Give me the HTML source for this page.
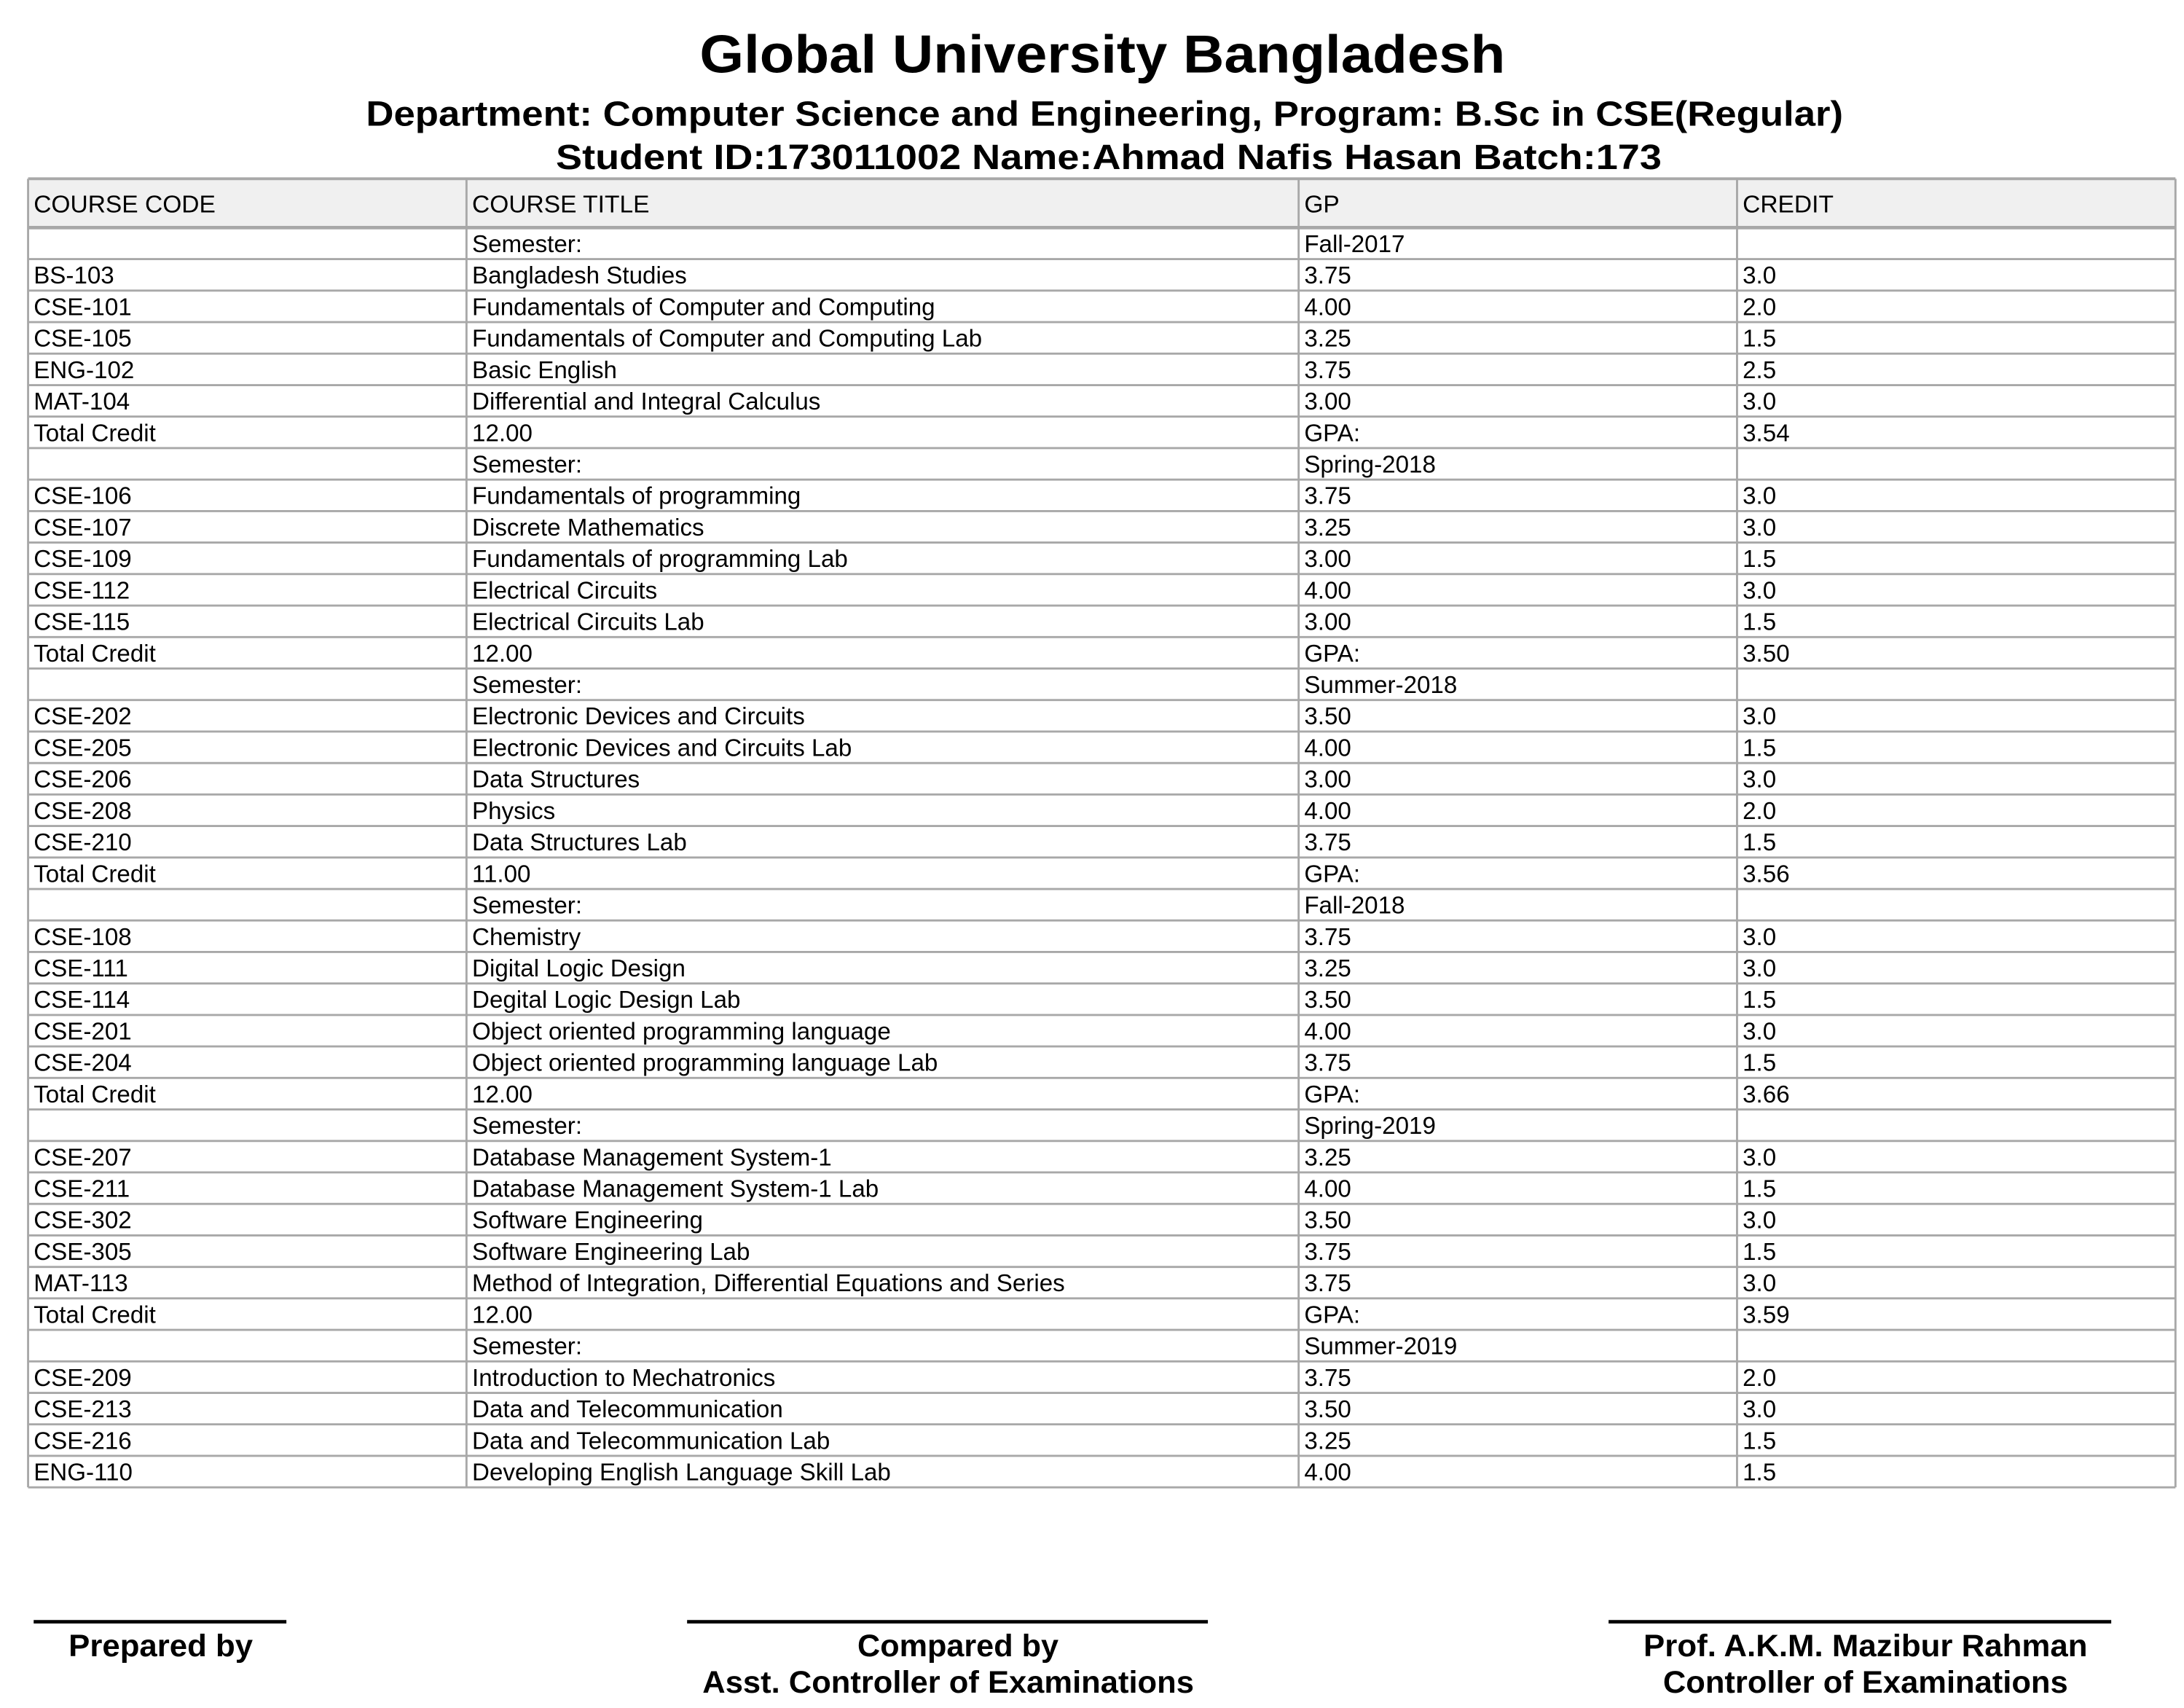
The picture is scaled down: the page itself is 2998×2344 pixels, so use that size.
<!DOCTYPE html>
<html><head><meta charset="utf-8"><style>
html,body{margin:0;padding:0;background:#fff;}
svg{display:block;}
text{font-family:"Liberation Sans",Arial,sans-serif;}
</style></head><body>
<svg id="page" width="2998" height="2344" viewBox="0 0 1564 1223" xmlns="http://www.w3.org/2000/svg">
<rect width="1564" height="1223" fill="#fff"/>
<g font-weight="bold" fill="#000" text-anchor="start">
<text x="501" y="52" font-size="38" textLength="577" lengthAdjust="spacingAndGlyphs">Global University Bangladesh</text>
<text x="262" y="90" font-size="25" textLength="1058" lengthAdjust="spacingAndGlyphs">Department: Computer Science and Engineering,  Program: B.Sc in CSE(Regular)</text>
<text x="398" y="121" font-size="25" textLength="792" lengthAdjust="spacingAndGlyphs">Student ID:173011002 Name:Ahmad Nafis Hasan Batch:173</text>
</g>
<g id="tbl"></g>
<g font-weight="bold" font-size="22" text-anchor="middle">
<rect x="24" y="1160" width="181" height="2.5" fill="#000"/>
<rect x="492" y="1160" width="373" height="2.5" fill="#000"/>
<rect x="1152" y="1160" width="360" height="2.5" fill="#000"/>
<text x="115" y="1186" textLength="132" lengthAdjust="spacingAndGlyphs">Prepared by</text>
<text x="686" y="1186" textLength="144" lengthAdjust="spacingAndGlyphs">Compared by</text>
<text x="679" y="1212" textLength="352" lengthAdjust="spacingAndGlyphs">Asst. Controller of Examinations</text>
<text x="1336" y="1186" textLength="318" lengthAdjust="spacingAndGlyphs">Prof. A.K.M. Mazibur Rahman</text>
<text x="1336" y="1212" textLength="290" lengthAdjust="spacingAndGlyphs">Controller of Examinations</text>
</g>
</svg>
<script>
const headers = ["COURSE CODE","COURSE TITLE","GP","CREDIT"];
const rows = [
["","Semester:","Fall-2017",""],
["BS-103","Bangladesh Studies","3.75","3.0"],
["CSE-101","Fundamentals of Computer and Computing","4.00","2.0"],
["CSE-105","Fundamentals of Computer and Computing Lab","3.25","1.5"],
["ENG-102","Basic English","3.75","2.5"],
["MAT-104","Differential and Integral Calculus","3.00","3.0"],
["Total Credit","12.00","GPA:","3.54"],
["","Semester:","Spring-2018",""],
["CSE-106","Fundamentals of programming","3.75","3.0"],
["CSE-107","Discrete Mathematics","3.25","3.0"],
["CSE-109","Fundamentals of programming Lab","3.00","1.5"],
["CSE-112","Electrical Circuits","4.00","3.0"],
["CSE-115","Electrical Circuits Lab","3.00","1.5"],
["Total Credit","12.00","GPA:","3.50"],
["","Semester:","Summer-2018",""],
["CSE-202","Electronic Devices and Circuits","3.50","3.0"],
["CSE-205","Electronic Devices and Circuits Lab","4.00","1.5"],
["CSE-206","Data Structures","3.00","3.0"],
["CSE-208","Physics","4.00","2.0"],
["CSE-210","Data Structures Lab","3.75","1.5"],
["Total Credit","11.00","GPA:","3.56"],
["","Semester:","Fall-2018",""],
["CSE-108","Chemistry","3.75","3.0"],
["CSE-111","Digital Logic Design","3.25","3.0"],
["CSE-114","Degital Logic Design Lab","3.50","1.5"],
["CSE-201","Object oriented programming language","4.00","3.0"],
["CSE-204","Object oriented programming language Lab","3.75","1.5"],
["Total Credit","12.00","GPA:","3.66"],
["","Semester:","Spring-2019",""],
["CSE-207","Database Management System-1","3.25","3.0"],
["CSE-211","Database Management System-1 Lab","4.00","1.5"],
["CSE-302","Software Engineering","3.50","3.0"],
["CSE-305","Software Engineering Lab","3.75","1.5"],
["MAT-113","Method of Integration, Differential Equations and Series","3.75","3.0"],
["Total Credit","12.00","GPA:","3.59"],
["","Semester:","Summer-2019",""],
["CSE-209","Introduction to Mechatronics","3.75","2.0"],
["CSE-213","Data and Telecommunication","3.50","3.0"],
["CSE-216","Data and Telecommunication  Lab","3.25","1.5"],
["ENG-110","Developing English Language Skill Lab","4.00","1.5"]
];
const NS="http://www.w3.org/2000/svg";
const g=document.getElementById('tbl');
const cols=[20,334,930,1244,1558];
const top0=128, headH=35, rowH=22.55;
const bottom=top0+headH+rows.length*rowH;
function mk(tag,attrs){const e=document.createElementNS(NS,tag);for(const k in attrs)e.setAttribute(k,attrs[k]);g.appendChild(e);return e;}
const hb=mk('rect',{x:cols[0],y:top0,width:cols[4]-cols[0],height:headH,fill:'#f0f0f0'});


headers.forEach((h,i)=>{
  const t=mk('text',{x:cols[i]+4,y:top0+24,'font-size':17.5,fill:'#000'});
  
  
  t.textContent=h;
});
rows.forEach((r,ri)=>{
  const y=top0+headH+ri*rowH;
  r.forEach((v,ci)=>{
    if(!v)return;
    const t=mk('text',{x:cols[ci]+4,y:y+17.5,'font-size':17.3,fill:'#000','xml:space':'preserve'});
    
    
    t.textContent=v;
  });
});
for(let i=0;i<=rows.length;i++){
  const y=top0+headH+i*rowH;
  const l=mk('line',{x1:cols[0],x2:cols[4],y1:y,y2:y,stroke:'#a8a8a8','stroke-width':i==0?2.5:1.5});
  
  
}
const tl=mk('line',{x1:cols[0],x2:cols[4],y1:top0,y2:top0,stroke:'#a8a8a8','stroke-width':2});


cols.forEach(x=>{
  const l=mk('line',{x1:x,x2:x,y1:top0,y2:bottom,stroke:'#a8a8a8','stroke-width':1.5});
  
  
});
</script>
</body></html>
